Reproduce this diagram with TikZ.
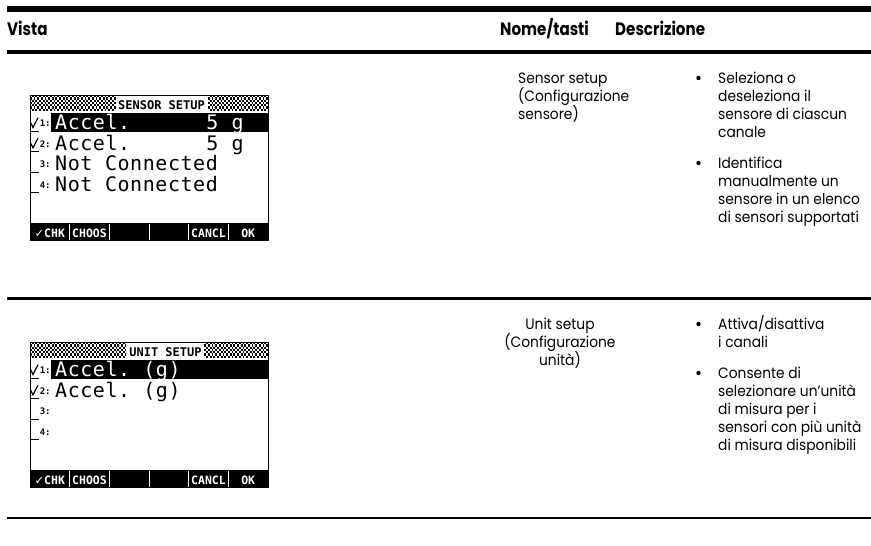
\documentclass[tikz,border=0pt]{standalone}
\usepackage{fontspec}
\setmainfont{Poppins}
\newfontfamily\bodyf[FakeStretch=0.92]{Poppins}
\newfontfamily\hdrf[FakeStretch=0.84]{Poppins}
\newfontfamily\lcdf[LetterSpace=2.8]{DejaVu Sans Mono}
\newfontfamily\lcds{DejaVu Sans Mono}
\newfontfamily\djs{DejaVu Sans}
% checkerboard hatch: #1 = left x (px), #2 = number of cells
\newcommand\hatchcells[2]{\foreach \i in {1,...,#2}{\foreach \j in {0,...,6}{\pgfmathtruncatemacro\kk{mod(\i+\j,2)}\ifnum\kk=0 \fill ({#1+1.82*(\i-1)},\j) rectangle ++(1.82,1);\fi}}}
\tikzset{
  body/.style={font=\bodyf\fontsize{15}{18}\selectfont, inner sep=0, anchor=base west},
  bodyc/.style={body, anchor=base},
  hdr/.style={font=\hdrf\bfseries\fontsize{18}{20}\selectfont, inner sep=0, anchor=base west},
  lcdbig/.style={font=\lcdf\fontsize{20}{20}\selectfont, inner sep=0, anchor=base west},
  lcddig/.style={font=\lcds\bfseries\fontsize{9}{9}\selectfont, inner sep=0, anchor=base west},
  lcdtitle/.style={font=\lcds\bfseries\fontsize{12}{12}\selectfont, inner sep=0, anchor=base},
  menulab/.style={font=\lcds\bfseries\fontsize{11.5}{11.5}\selectfont, text=white, inner sep=0, anchor=base},
  chk/.style={line width=1.2pt},
}
\begin{document}
\begin{tikzpicture}[x=1pt,y=-1pt]
\useasboundingbox (0,0) rectangle (871,546);
% rules
\fill (7,5.5) rectangle (871,12);
\fill (7,50) rectangle (871,54);
\fill (7,297) rectangle (871,299.5);
\fill (7,516.5) rectangle (871,519);
% header
\node[hdr] (hV) at (7,35) {Vista};
\node[hdr] (hN) at (500,35) {Nome/tasti};
\node[hdr] (hD) at (615,35) {Descrizione};
% row 1 texts
\foreach \t [count=\i from 0] in {{Sensor setup},{(Configurazione},{sensore)}}
  \node[body] (n1-\i) at (518,83+18*\i) {\t};
\fill (698.5,78) circle (2.2);
\foreach \t [count=\i from 0] in {{Seleziona o},{deseleziona il},{sensore di ciascun},{canale}}
  \node[body] (d1-\i) at (718,83+18*\i) {\t};
\fill (698.5,163) circle (2.2);
\foreach \t [count=\i from 0] in {{Identifica},{manualmente un},{sensore in un elenco},{di sensori supportati}}
  \node[body] (d2-\i) at (718,168+18*\i) {\t};
% row 2 texts
\foreach \t [count=\i from 0] in {{Unit setup},{(Configurazione},{unità)}}
  \node[bodyc] (n2-\i) at (560,329+18*\i) {\t};
\fill (698.5,324) circle (2.2);
\foreach \t [count=\i from 0] in {{Attiva/disattiva},{i canali}}
  \node[body] (d3-\i) at (718,329+18*\i) {\t};
\fill (698.5,373) circle (2.2);
\foreach \t [count=\i from 0] in {{Consente di},{selezionare un’unità},{di misura per i},{sensori con più unità},{di misura disponibili}}
  \node[body] (d4-\i) at (718,378+18*\i) {\t};
% screen 1
\begin{scope}[shift={(0,95)}, y=-2.27pt]
  \hatchcells{30}{47}
  \hatchcells{207.9}{33}
  \node[lcdtitle] (t1) at (161.5,6.2) {SENSOR SETUP};
  \fill (51,8) rectangle (268,16.5);
  \draw[chk] (30.8,12.3) -- (33,14.3) -- (38,10);  \draw[chk] (30,16) -- (39,16);
  \draw[chk] (30.8,21.3) -- (33,23.3) -- (38,19);  \draw[chk] (30,25) -- (39,25);
  \draw[chk] (30,34) -- (39,34);
  \draw[chk] (30,43) -- (39,43);
  \node[lcddig] (a1) at (39.6,14) {1:};
  \node[lcddig] (a2) at (39.6,23) {2:};
  \node[lcddig] (a3) at (39.6,32) {3:};
  \node[lcddig] (a4) at (39.6,41) {4:};
  \node[lcdbig, text=white] (r1a) at (55,15.3) {Accel.};
  \node[lcdbig, text=white] (r1b) at (206.2,15.3) {5};
  \node[lcdbig, text=white] (r1c) at (231.4,15.3) {g};
  \node[lcdbig] (r2a) at (55,24.3) {Accel.};
  \node[lcdbig] (r2b) at (206.2,24.3) {5};
  \node[lcdbig] (r2c) at (231.4,24.3) {g};
  \node[lcdbig] (r3) at (55,33.3) {Not Connected};
  \node[lcdbig] (r4) at (55,42.3) {Not Connected};
  \fill (30,56.5) rectangle (268,64);
  \foreach \k in {1,...,5} \draw[white, line width=0.9pt] (30+39.67*\k,57) -- (30+39.67*\k,64);
  \node[menulab] (m1a) at (49.8,62.6) {{\djs ✓}CHK};
  \node[menulab] (m1b) at (89.5,62.6) {CHOOS};
  \node[menulab] (m1e) at (208.5,62.6) {CANCL};
  \node[menulab] (m1f) at (248.2,62.6) {OK};
  \draw[line width=1pt] (30,0) rectangle (268,64);
\end{scope}
% screen 2
\begin{scope}[shift={(0,342)}, y=-2.27pt]
  \hatchcells{30}{53}
  \hatchcells{204.3}{35}
  \node[lcdtitle] (t2) at (165.5,6.2) {UNIT SETUP};
  \fill (51,8) rectangle (268,16.5);
  \draw[chk] (30.8,12.3) -- (33,14.3) -- (38,10);  \draw[chk] (30,16) -- (39,16);
  \draw[chk] (30.8,21.3) -- (33,23.3) -- (38,19);  \draw[chk] (30,25) -- (39,25);
  \draw[chk] (30,34) -- (39,34);
  \draw[chk] (30,43) -- (39,43);
  \node[lcddig] (b1) at (39.6,14) {1:};
  \node[lcddig] (b2) at (39.6,23) {2:};
  \node[lcddig] (b3) at (39.6,32) {3:};
  \node[lcddig] (b4) at (39.6,41) {4:};
  \node[lcdbig, text=white] (s1a) at (55,15.3) {Accel.};
  \node[lcdbig, text=white] (s1b) at (143.2,15.3) {(g)};
  \node[lcdbig] (s2a) at (55,24.3) {Accel.};
  \node[lcdbig] (s2b) at (143.2,24.3) {(g)};
  \fill (30,56.5) rectangle (268,64);
  \foreach \k in {1,...,5} \draw[white, line width=0.9pt] (30+39.67*\k,57) -- (30+39.67*\k,64);
  \node[menulab] (m2a) at (49.8,62.6) {{\djs ✓}CHK};
  \node[menulab] (m2b) at (89.5,62.6) {CHOOS};
  \node[menulab] (m2e) at (208.5,62.6) {CANCL};
  \node[menulab] (m2f) at (248.2,62.6) {OK};
  \draw[line width=1pt] (30,0) rectangle (268,64);
\end{scope}
\end{tikzpicture}
\end{document}
